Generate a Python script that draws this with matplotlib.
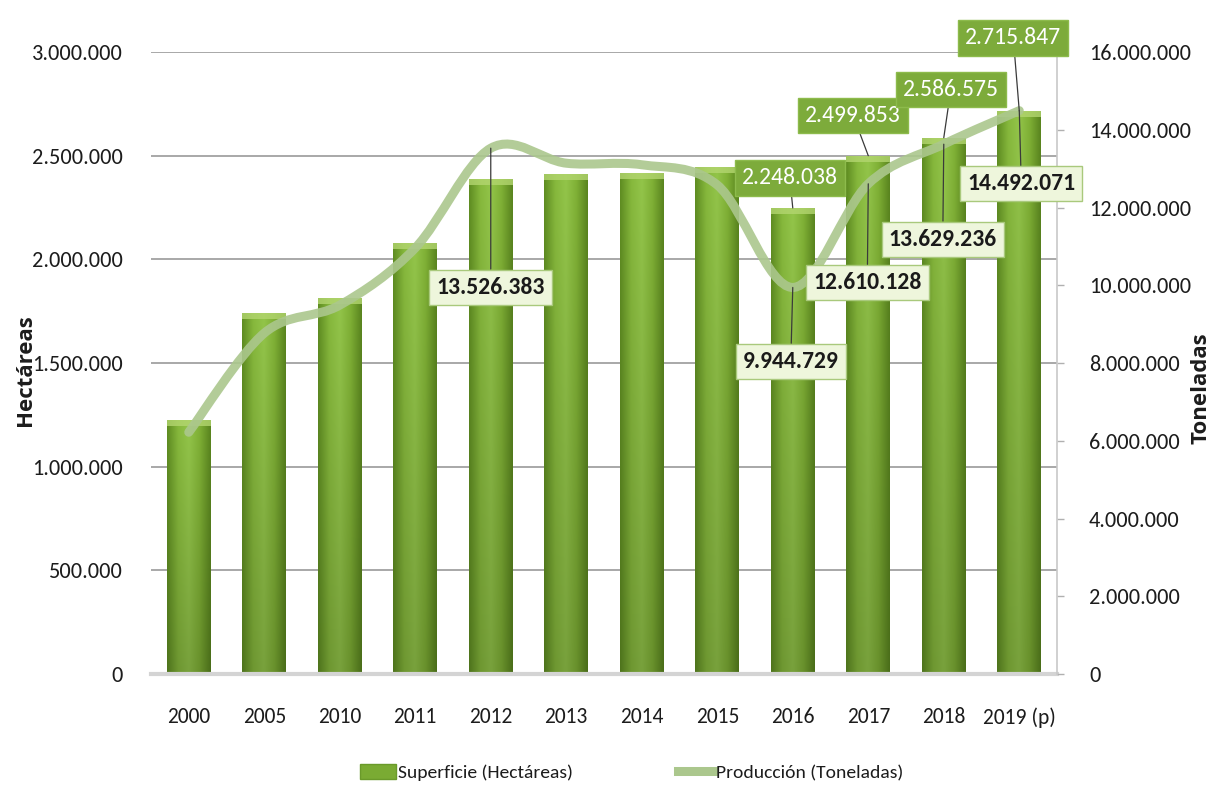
import numpy as np
import matplotlib
matplotlib.use("Agg")
import matplotlib.pyplot as plt
from matplotlib import font_manager
from matplotlib.path import Path
from matplotlib.patches import PathPatch, Patch
from matplotlib.lines import Line2D
from matplotlib.colors import LinearSegmentedColormap
from matplotlib.ticker import FuncFormatter, MultipleLocator

# data
years = ["2000", "2005", "2010", "2011", "2012", "2013", "2014", "2015",
         "2016", "2017", "2018", "2019 (p)"]
superficie = [1225000, 1742000, 1814000, 2079000, 2388000, 2412000, 2417000,
              2446000, 2248038, 2499853, 2586575, 2715847]
produccion = [6220000, 8770000, 9490000, 10960000, 13526383, 13140000,
              13100000, 12580000, 9944729, 12610128, 13629236, 14492071]

# which points carry a label, and where the box sits (offset in pixels)
bar_labels = {8: (-3, 30), 9: (-15, 40), 10: (7, 48), 11: (-6, 73)}
line_labels = {4: (0, -139), 8: (-2, -74), 9: (-1, -99), 10: (-1, -95), 11: (2, -73)}

installed = {f.name for f in font_manager.fontManager.ttflist}
narrow = next(f for f in ["Carlito", "Liberation Sans Narrow",
                          "IBM Plex Sans Condensed", "DejaVu Sans"]
              if f in installed)
plt.rcParams["font.family"] = [narrow, "DejaVu Sans"]
TXT = "#1c1c1c"


def fmt(v, pos=None):
    return f"{v:,.0f}".replace(",", ".")


fig = plt.figure(figsize=(12.09, 7.94), dpi=100)
ax = fig.add_axes([0.1249, 0.151, 0.7494, 0.7835])
ax2 = ax.twinx()

x = np.arange(len(years))

# bars: horizontal gradient, darker toward the base
bars = ax.bar(x, superficie, width=0.58, color="#7aab33", zorder=2)
hcm = LinearSegmentedColormap.from_list(
    "g", ["#5f8d22", "#86b83c", "#93c54a", "#7fb035", "#5a851f"])
hrgb = hcm(np.linspace(0, 1, 64))[:, :3]
vfac = np.linspace(1.0, 0.82, 64).reshape(-1, 1, 1)
gimg = np.clip(hrgb.reshape(1, -1, 3) * vfac, 0, 1)
for rect in bars:
    x0 = rect.get_x()
    w = rect.get_width()
    h = rect.get_height()
    im = ax.imshow(gimg, aspect="auto", zorder=2.1, origin="upper",
                   extent=[x0, x0 + w, 0, h], interpolation="bicubic")
    im.set_clip_path(rect)
    # light bevel at the top of each bar
    ax.bar(x0 + w / 2, 30000, bottom=h - 30000, width=w,
           color="#b3d670", alpha=0.8, zorder=2.2, linewidth=0)

ax.set_xlim(-0.5, len(years) - 0.5)
ax.set_ylim(0, 3000000)
ax2.set_ylim(0, 16000000)

ax.yaxis.set_major_locator(MultipleLocator(500000))
ax2.yaxis.set_major_locator(MultipleLocator(2000000))
ax.yaxis.set_major_formatter(FuncFormatter(fmt))
ax2.yaxis.set_major_formatter(FuncFormatter(fmt))

ax.grid(axis="y", color="#9a9a9a", linewidth=1.2, zorder=0)
ax.set_axisbelow(True)

for s in ["top", "left", "right"]:
    ax.spines[s].set_visible(False)
for s in ["top", "left", "bottom"]:
    ax2.spines[s].set_visible(False)
ax.spines["bottom"].set_color("#d4d4d4")
ax.spines["bottom"].set_linewidth(3)
ax2.spines["right"].set_color("#c8c8c8")
ax2.spines["right"].set_linewidth(1.2)

ax.set_xticks(x)
ax.set_xticklabels(years)
ax.tick_params(axis="x", length=0, pad=24, labelsize=15.5, labelcolor=TXT)
ax.tick_params(axis="y", length=0, pad=20, labelsize=16, labelcolor=TXT)
ax2.tick_params(axis="y", length=5, width=1, color="#b0b0b0", pad=18,
                labelsize=16, labelcolor=TXT)

ax.set_ylabel("Hectáreas", family=["Open Sans", "DejaVu Sans"],
              fontweight="bold", fontsize=16, color=TXT)
ax.yaxis.set_label_coords(-0.127, 0.489)
ax2.set_ylabel("Toneladas", family=["Open Sans", "DejaVu Sans"],
               fontweight="bold", fontsize=16, color=TXT, rotation=90)
ax2.yaxis.set_label_coords(1.147, 0.46)

# smoothed production line (Catmull-Rom turned into cubic Bezier segments)
pts = np.column_stack([x, produccion]).astype(float)
verts = [pts[0]]
codes = [Path.MOVETO]
n = len(pts)
for i in range(n - 1):
    p0 = pts[i - 1] if i > 0 else pts[i]
    p1 = pts[i]
    p2 = pts[i + 1]
    p3 = pts[i + 2] if i + 2 < n else pts[i + 1]
    c1 = p1 + (p2 - p0) / 6.0
    c2 = p2 - (p3 - p1) / 6.0
    verts += [c1, c2, p2]
    codes += [Path.CURVE4, Path.CURVE4, Path.CURVE4]
curve = PathPatch(Path(verts, codes), fill=False, edgecolor="#abc78d",
                  linewidth=6.5, alpha=0.9, capstyle="round", zorder=3)
ax2.add_patch(curve)

# data labels
for i, (dx, dy) in bar_labels.items():
    ax2.annotate(fmt(superficie[i]), xy=(x[i], superficie[i]),
                 xycoords=ax.transData, xytext=(dx, dy),
                 textcoords="offset pixels", ha="center", va="center",
                 fontsize=17, color="white", zorder=5,
                 bbox=dict(boxstyle="square,pad=0.3", fc="#7dab3b",
                           ec="#8dbb4c", lw=1),
                 arrowprops=dict(arrowstyle="-", color="#3a3a3a", lw=0.9,
                                 shrinkA=0, shrinkB=0))

for i, (dx, dy) in line_labels.items():
    ax2.annotate(fmt(produccion[i]), xy=(x[i], produccion[i]),
                 xytext=(dx, dy), textcoords="offset pixels",
                 ha="center", va="center", fontsize=17, color="#1a1a1a",
                 fontweight="bold", zorder=5,
                 bbox=dict(boxstyle="square,pad=0.3", fc="#eef6dc",
                           ec="#a9c97c", lw=1),
                 arrowprops=dict(arrowstyle="-", color="#3a3a3a", lw=0.9,
                                 shrinkA=0, shrinkB=0))

handles = [Patch(facecolor="#7aab33", edgecolor="#6a9a2a"),
           Line2D([0], [0], color="#abc78d", lw=6.5)]
fig.legend(handles, ["Superficie (Hectáreas)", "Producción (Toneladas)"],
           loc="center", bbox_to_anchor=(0.5227, 0.027), ncol=2,
           frameon=False, fontsize=14, handlelength=1.85, handleheight=0.8,
           handletextpad=0.1, columnspacing=5.4, labelcolor=TXT)

fig.savefig("out.png", dpi=100)
